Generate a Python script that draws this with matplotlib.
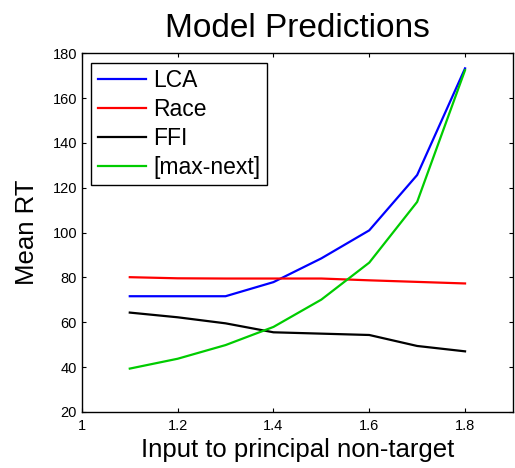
import numpy as np
import matplotlib
matplotlib.use('Agg')
from matplotlib import pyplot as plt

plt.rcParams['font.family'] = ['Liberation Sans', 'DejaVu Sans']

# values
x_input = [1.1, 1.2, 1.3, 1.4, 1.5, 1.6, 1.7, 1.8]
rt_lca = [71.6, 71.6, 71.6, 77.9, 88.5, 101.0, 125.7, 173.3]
rt_race = [80.1, 79.6, 79.5, 79.5, 79.5, 78.7, 78.0, 77.3]
rt_ffi = [64.3, 62.2, 59.5, 55.5, 54.9, 54.3, 49.4, 47.0]
rt_maxnext = [39.3, 43.7, 49.8, 57.9, 70.1, 86.6, 113.7, 172.5]

labels = ['LCA', 'Race', 'FFI', '[max-next]']
colors = ['#0000ff', '#ff0000', '#000000', '#00cc00']
xticks = [1, 1.2, 1.4, 1.6, 1.8]
xtick_labels = ['1', '1.2', '1.4', '1.6', '1.8']
yticks = [20, 40, 60, 80, 100, 120, 140, 160, 180]

fig = plt.figure(figsize=(5.15, 4.68), dpi=100)
ax = fig.add_axes([0.159, 0.12, 0.837, 0.766])

for ys, lab, col in zip([rt_lca, rt_race, rt_ffi, rt_maxnext], labels, colors):
    ax.plot(x_input, ys, color=col, lw=1.6, label=lab)

ax.set_xlim(1, 1.9)
ax.set_ylim(20, 180)
ax.set_xticks(xticks)
ax.set_xticklabels(xtick_labels)
ax.set_yticks(yticks)
ax.tick_params(direction='in', top=True, right=True, labelsize=10.5,
               length=3, width=0.8)
ax.tick_params(axis='x', pad=5)
for s in ax.spines.values():
    s.set_linewidth(1.0)

ax.set_title('Model Predictions', fontsize=24, pad=12)
ax.set_xlabel('Input to principal non-target', fontsize=18.5, labelpad=4)
ax.set_ylabel('Mean RT', fontsize=18.5, labelpad=10)

leg = ax.legend(loc='upper left', fontsize=16.5, handlelength=2.1,
                handletextpad=0.3, labelspacing=0.25, borderpad=0.3,
                borderaxespad=0.4, fancybox=False, framealpha=1)
leg.get_frame().set_edgecolor('black')
leg.get_frame().set_linewidth(1.0)

fig.savefig('out.png', dpi=100)
